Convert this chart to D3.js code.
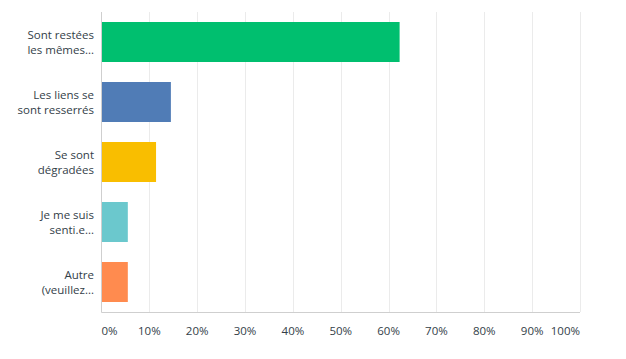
<!DOCTYPE html>
<html><head><meta charset="utf-8">
<script src="https://cdn.jsdelivr.net/npm/d3@7"></script>
<style>body{margin:0;background:#fff}svg{display:block}</style>
</head><body><svg id="c" width="626" height="359"></svg>
<script>
const categories = [["Sont restées","les mêmes..."],["Les liens se","sont resserrés"],["Se sont","dégradées"],["Je me suis","senti.e..."],["Autre","(veuillez..."]];
const values = [62.3, 14.5, 11.4, 5.5, 5.5];
const colors = ["#00BF6F","#507CB6","#F9BE00","#6BC8CD","#FF8B4F"];
const ticks = [0,10,20,30,40,50,60,70,80,90,100];

const svg = d3.select("#c");
const m = {l:101.5, r:580, t:12, b:312};
const x = d3.scaleLinear().domain([0,100]).range([m.l, m.r]);
const y = d3.scaleBand().domain(d3.range(categories.length)).range([m.t, m.b]).paddingInner(1/3).paddingOuter(1/6);
const font = "Open Sans, Arial, sans-serif";

svg.append("g").selectAll("line").data(ticks.slice(1)).join("line")
  .attr("x1", d=>Math.round(x(d))+0.5).attr("x2", d=>Math.round(x(d))+0.5)
  .attr("y1", m.t).attr("y2", m.b).attr("stroke","#ebebeb").attr("stroke-width",1);

svg.append("g").selectAll("rect").data(values).join("rect")
  .attr("x", x(0)).attr("y", (d,i)=>y(i)).attr("width", d=>x(d)-x(0)).attr("height", y.bandwidth())
  .attr("fill", (d,i)=>colors[i]);

svg.append("line").attr("x1", m.l).attr("x2", m.l).attr("y1", m.t).attr("y2", m.b+0.5).attr("stroke","#cfcfcf");
svg.append("line").attr("x1", m.l).attr("x2", m.r).attr("y1", m.b+0.5).attr("y2", m.b+0.5).attr("stroke","#cfcfcf");

const lab = svg.append("g").selectAll("text").data(categories).join("text")
  .attr("x", 94).attr("text-anchor","end").attr("font-family", font).attr("font-size", 11.5).attr("fill","#333e48");
lab.each(function(d,i){
  const c = y(i)+y.bandwidth()/2;
  d3.select(this).selectAll("tspan").data(d).join("tspan")
    .attr("x",94).attr("y",(t,j)=>c-7.5+j*15).attr("dy","0.35em").text(t=>t);
});

svg.append("g").selectAll("text").data(ticks).join("text")
  .attr("x", d=>x(d)).attr("y", 331).attr("dy","0.35em")
  .attr("text-anchor", d=>d===0?"start":d===100?"end":"middle")
  .attr("font-family", font).attr("font-size", 11.5).attr("fill","#333e48")
  .text(d=>d+"%");
</script></body></html>
